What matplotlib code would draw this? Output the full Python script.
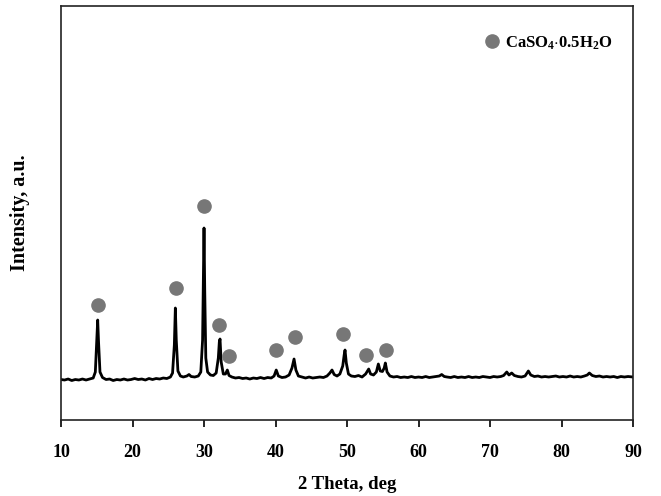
import matplotlib
matplotlib.use('Agg')
import matplotlib.pyplot as plt

# XRD pattern (intensity in arbitrary units)
theta = [10.0, 10.5, 11.0, 11.5, 12.0, 12.5, 13.0, 13.5, 14.0, 14.5, 14.8, 15.0, 15.13, 15.25, 15.45, 15.8,
         16.3, 16.8, 17.3, 17.8, 18.3, 18.8, 19.3, 19.8, 20.3, 20.8, 21.3, 21.8, 22.3, 22.8, 23.3, 23.8,
         24.3, 24.8, 25.3, 25.6, 25.85, 25.99, 26.12, 26.35, 26.7, 27.1, 27.6, 27.9, 28.2, 28.7, 29.2, 29.55,
         29.8, 29.92, 30.0, 30.1, 30.25, 30.5, 30.9, 31.3, 31.7, 32.0, 32.14, 32.24, 32.4, 32.7, 33.0, 33.26,
         33.5, 33.9, 34.4, 34.9, 35.4, 35.9, 36.4, 36.9, 37.4, 37.9, 38.4, 38.9, 39.4, 39.8, 40.1, 40.4,
         40.9, 41.4, 41.9, 42.3, 42.59, 42.85, 43.2, 43.7, 44.2, 44.7, 45.2, 45.7, 46.2, 46.7, 47.2, 47.6,
         47.9, 48.2, 48.6, 49.0, 49.4, 49.6, 49.72, 49.9, 50.2, 50.6, 51.1, 51.6, 52.1, 52.6, 53.03, 53.3,
         53.7, 54.1, 54.38, 54.65, 54.95, 55.2, 55.36, 55.6, 56.0, 56.5, 57.0, 57.5, 58.0, 58.5, 59.0, 59.5,
         60.0, 60.5, 61.0, 61.5, 62.0, 62.5, 62.9, 63.24, 63.6, 64.0, 64.5, 65.0, 65.5, 66.0, 66.5, 67.0,
         67.5, 68.0, 68.5, 69.0, 69.5, 70.0, 70.5, 71.0, 71.5, 71.9, 72.34, 72.65, 73.03, 73.4, 73.9, 74.4,
         74.9, 75.36, 75.7, 76.2, 76.7, 77.2, 77.7, 78.2, 78.7, 79.2, 79.7, 80.2, 80.7, 81.2, 81.7, 82.2,
         82.7, 83.2, 83.6, 83.89, 84.3, 84.8, 85.3, 85.8, 86.3, 86.8, 87.3, 87.8, 88.3, 88.8, 89.3, 90.0]
intensity = [0.5, 0.0, 1.0, -0.5, 0.5, 0.0, 1.0, 0.0, 1.0, 2.0, 8.0, 40.0, 60.0, 38.0, 8.0, 2.5,
             0.5, 1.0, -0.5, 0.5, 0.0, 1.0, 0.0, 0.5, 1.5, 0.5, 1.0, 0.0, 1.5, 0.5, 1.5, 1.0,
             2.0, 1.5, 3.0, 7.0, 35.0, 72.0, 40.0, 9.0, 4.0, 3.0, 4.0, 5.5, 3.5, 3.0, 4.0, 8.0,
             40.0, 105.0, 152.0, 90.0, 22.0, 8.0, 5.0, 4.5, 7.0, 22.0, 38.0, 41.0, 18.0, 6.0, 6.0, 10.0,
             4.5, 3.0, 2.0, 2.5, 1.5, 2.0, 1.0, 2.0, 1.5, 2.5, 1.5, 2.5, 2.0, 4.0, 10.0, 4.0,
             2.5, 3.0, 5.0, 12.0, 21.0, 10.0, 4.0, 3.0, 2.0, 3.0, 2.0, 2.5, 3.0, 2.5, 4.0, 7.0,
             10.0, 5.5, 4.0, 6.0, 14.0, 25.0, 30.0, 17.0, 6.0, 4.0, 3.5, 4.5, 3.0, 6.0, 11.0, 6.0,
             5.0, 8.0, 16.0, 9.0, 8.5, 12.0, 17.0, 8.0, 4.0, 3.0, 3.5, 2.5, 3.0, 2.5, 3.5, 2.5,
             3.0, 2.5, 3.5, 2.5, 3.0, 3.5, 4.0, 5.5, 3.5, 3.0, 2.5, 3.5, 2.5, 3.0, 2.5, 3.5,
             2.5, 3.0, 2.5, 3.5, 3.0, 2.5, 3.5, 3.0, 3.5, 4.5, 8.0, 5.0, 7.0, 4.5, 3.5, 3.0,
             4.0, 9.0, 5.0, 3.5, 4.0, 3.0, 3.5, 3.0, 3.5, 4.0, 3.0, 3.5, 3.0, 4.0, 3.0, 3.5,
             3.0, 4.0, 5.0, 7.0, 4.5, 3.5, 4.0, 3.0, 3.5, 3.0, 3.5, 2.5, 3.5, 3.0, 3.5, 3.0]

# CaSO4.0.5H2O peak markers
mark_theta = [15.13, 26.04, 30.04, 32.14, 33.45, 40.11, 42.69, 49.44, 52.62, 55.45]
mark_int = [75.0, 92.0, 174.0, 55.0, 24.0, 30.0, 43.0, 46.0, 25.0, 30.0]

plt.rcParams['font.family'] = ['Liberation Serif', 'DejaVu Serif']
plt.rcParams['font.weight'] = 'bold'
plt.rcParams['mathtext.fontset'] = 'custom'
plt.rcParams['mathtext.rm'] = 'Liberation Serif:bold'
plt.rcParams['mathtext.bf'] = 'Liberation Serif:bold'
plt.rcParams['mathtext.default'] = 'bf'

fig = plt.figure(figsize=(6.61, 4.96), dpi=100)
ax = fig.add_axes([0.0923, 0.1532, 0.8654, 0.8347])

ax.plot(theta, intensity, color='black', linewidth=2.0)
ax.plot(mark_theta, mark_int, 'o', color='#777777', markersize=9.5, linestyle='none',
        label=r'CaSO$_4$$\cdot$0.5H$_2$O')

ax.set_xlim(10, 90)
ax.set_ylim(-40, 374)
ax.set_xticks(range(10, 91, 10))
ax.set_yticks([])
ax.tick_params(axis='x', direction='out', length=5, width=1.2, labelsize=13, pad=12)
for s in ax.spines.values():
    s.set_linewidth(1.2)
    s.set_color('#222222')

ax.set_xlabel('2 Theta, deg', fontsize=13.5, fontweight='bold', labelpad=11)
ax.set_ylabel('Intensity, a.u.', fontsize=14.5, fontweight='bold', labelpad=22)

ax.legend(loc='upper right', bbox_to_anchor=(0.976, 0.948), frameon=False, fontsize=12,
          handletextpad=0.3, borderaxespad=0.0, handlelength=1.0)

fig.savefig('out.png', dpi=100)
